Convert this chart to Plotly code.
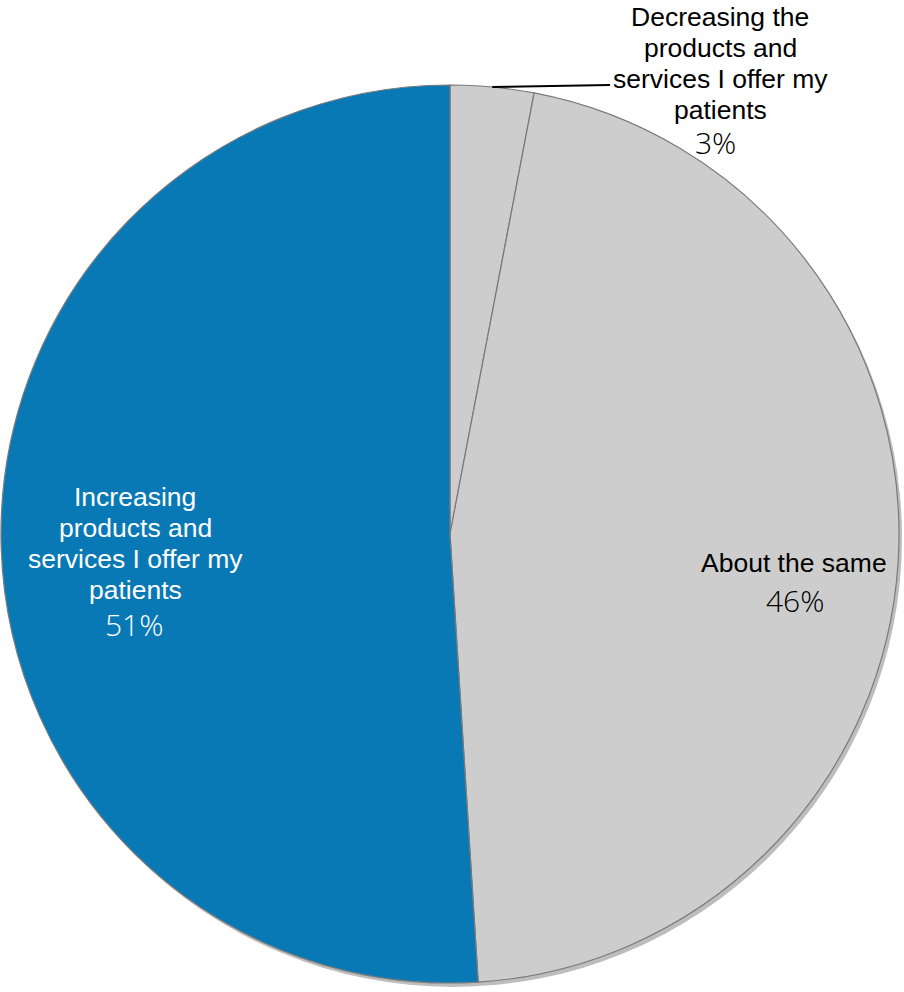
import plotly.graph_objects as go
import math

# ---- data ----
labels = ["Decreasing the<br>products and<br>services I offer my<br>patients",
          "About the same",
          "Increasing<br>products and<br>services I offer my<br>patients"]
values = [3, 46, 51]
pct_labels = ["3%", "46%", "51%"]
colors = ["#CDCDCD", "#CDCDCD", "#0979B6"]
text_colors = ["#000000", "#000000", "#FFFFFF"]

W, H = 904, 992
cx, cy, R = 450, 534, 449

def px(x):
    return x / W

def py(y):
    return 1 - y / H

fig = go.Figure()

# soft shadow behind the pie
fig.add_trace(go.Pie(
    values=[sum(values)], labels=["shadow"], sort=False,
    marker=dict(colors=["#BDBDBD"], line=dict(width=0)),
    textinfo="none", hoverinfo="skip", showlegend=False,
    domain=dict(x=[px(cx - R + 3), px(cx + R + 3)], y=[py(cy + R + 4), py(cy - R + 4)]),
))

fig.add_trace(go.Pie(
    values=values, labels=[l.replace("<br>", " ") for l in labels],
    sort=False, direction="clockwise", rotation=0,
    marker=dict(colors=colors, line=dict(color="#7A7A7A", width=1.2)),
    textinfo="none", hoverinfo="label+percent", showlegend=False,
    domain=dict(x=[px(cx - R), px(cx + R)], y=[py(cy + R), py(cy - R)]),
))

# label block placement (pixel positions of text)
blocks = [
    dict(x=720, y0=17, pct_x=715, pct_y=142),
    dict(x=794, y0=563, pct_x=795, pct_y=600),
    dict(x=135, y0=497, pct_x=134, pct_y=624),
]
line_gap = 31
annotations = []
for lab, pct, tc, b in zip(labels, pct_labels, text_colors, blocks):
    for i, line in enumerate(lab.split("<br>")):
        annotations.append(dict(
            x=px(b["x"]), y=py(b["y0"] + i * line_gap), xref="paper", yref="paper",
            text=line, showarrow=False, xanchor="center", yanchor="middle",
            font=dict(family="Liberation Sans, Arial", size=26.5, color=tc),
        ))
    annotations.append(dict(
        x=px(b["pct_x"]), y=py(b["pct_y"]), xref="paper", yref="paper",
        text=pct, showarrow=False, xanchor="center", yanchor="middle",
        font=dict(family="Open Sans", size=30, weight=300, color=tc),
    ))

# leader line for the small slice
mid_angle = math.radians(values[0] / sum(values) * 360 / 2)
lx0 = cx + R * math.sin(mid_angle)
ly0 = cy - R * math.cos(mid_angle)
shapes = [dict(type="line", xref="paper", yref="paper",
               x0=px(lx0), y0=py(ly0), x1=px(610), y1=py(85),
               line=dict(color="#000000", width=2))]

fig.update_layout(
    width=W, height=H,
    margin=dict(l=0, r=0, t=0, b=0),
    paper_bgcolor="white", plot_bgcolor="white",
    annotations=annotations, shapes=shapes,
    showlegend=False,
)

fig.write_html("out.html")
